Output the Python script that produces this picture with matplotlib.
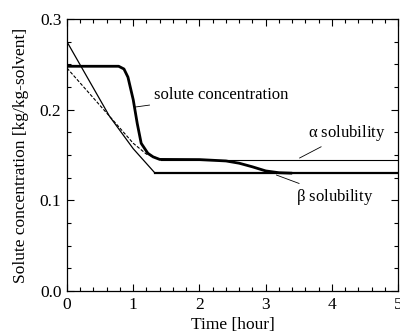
import matplotlib
matplotlib.use("Agg")
import matplotlib.pyplot as plt
from matplotlib.ticker import MultipleLocator

plt.rcParams['font.family'] = ['Liberation Serif', 'DejaVu Serif']
plt.rcParams['mathtext.fontset'] = 'custom'
plt.rcParams['mathtext.rm'] = 'Liberation Serif'
plt.rcParams['mathtext.it'] = 'Liberation Serif'

# Solute concentration
t_conc = [0.0, 0.78, 0.86, 0.92, 1.0, 1.06, 1.12, 1.22, 1.3, 1.4, 2.0, 2.4, 2.6, 2.8, 3.0, 3.2, 3.4]
c_conc = [0.248, 0.248, 0.245, 0.236, 0.211, 0.185, 0.163, 0.152, 0.148, 0.1452, 0.145, 0.1435,
          0.141, 0.137, 0.1325, 0.1305, 0.13]

# alpha solubility
t_alpha = [0.0, 0.64, 1.0, 1.2, 1.42, 5.0]
c_alpha = [0.246, 0.193, 0.163, 0.151, 0.145, 0.145]

# beta solubility
t_beta = [0.0, 0.64, 1.0, 1.33, 5.0]
c_beta = [0.275, 0.193, 0.157, 0.13, 0.13]

fig = plt.figure(figsize=(4.0, 3.36), dpi=100)
ax = fig.add_axes([0.1675, 0.134, 0.828, 0.809])

# alpha: dashed descending, thin flat
ax.plot(t_alpha[:5], c_alpha[:5], color='black', lw=0.8, ls=(0, (3, 1.5)))
ax.plot(t_alpha[4:], c_alpha[4:], color='black', lw=0.8)
# beta: thin descending, thicker flat
ax.plot(t_beta[:4], c_beta[:4], color='black', lw=0.9)
ax.plot(t_beta[3:], c_beta[3:], color='black', lw=1.6)
# solute concentration
ax.plot(t_conc, c_conc, color='black', lw=2.0, solid_capstyle='butt')

fs_ann = 12
fs = 12.5
ax.annotate('solute concentration', xy=(1.03, 0.203), xytext=(1.31, 0.216),
            fontsize=fs_ann, va='center', ha='left',
            arrowprops=dict(arrowstyle='-', color='black', lw=0.6, shrinkA=1, shrinkB=0))
ax.annotate(r'$\alpha$ solubility', xy=(3.51, 0.1467), xytext=(3.64, 0.174),
            fontsize=fs_ann, va='center', ha='left',
            arrowprops=dict(arrowstyle='-', color='black', lw=0.6, shrinkA=1, shrinkB=0))
ax.annotate(r'$\beta$ solubility', xy=(3.16, 0.128), xytext=(3.46, 0.104),
            fontsize=fs_ann, va='center', ha='left',
            arrowprops=dict(arrowstyle='-', color='black', lw=0.6, shrinkA=1, shrinkB=0))

ax.set_xlim(0, 5)
ax.set_ylim(0, 0.3)
ax.xaxis.set_minor_locator(MultipleLocator(0.2))
ax.yaxis.set_minor_locator(MultipleLocator(0.025))
ax.set_xticks([0, 1, 2, 3, 4, 5])
ax.set_xticklabels(['0', '1', '2', '3', '4', '5'])
ax.set_yticks([0.0, 0.1, 0.2, 0.3])
ax.set_yticklabels(['0.0', '0.1', '0.2', '0.3'])
ax.tick_params(which='both', direction='in', top=True, right=True, labelsize=fs, width=0.8)
ax.tick_params(which='major', length=5, pad=4)
ax.tick_params(which='minor', length=3)
for s in ax.spines.values():
    s.set_linewidth(0.9)

ax.set_xlabel('Time [hour]', fontsize=fs, labelpad=3)
ax.set_ylabel('Solute concentration [kg/kg-solvent]', fontsize=fs, labelpad=8)

fig.savefig('out.png', dpi=100)
